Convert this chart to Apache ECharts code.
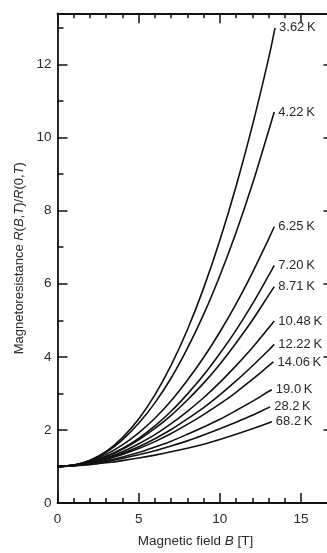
<!DOCTYPE html>
<html>
<head>
<meta charset="utf-8">
<script src="https://cdn.jsdelivr.net/npm/echarts@6/dist/echarts.min.js"></script>
<style>
html,body{margin:0;padding:0;background:#fff;overflow:hidden;width:327px;height:553px;}
#c{width:345px;height:553px;}
</style>
</head>
<body>
<div id="c"></div>
<script>
// Field values (T) at which the curves are read
const fieldB = [0,1,2,3,4,5,6,7,8,9,10,11,12,13];
// Curve labels (temperature)
const temps = ['3.62\u2009K','4.22\u2009K','6.25\u2009K','7.20\u2009K','8.71\u2009K','10.48\u2009K','12.22\u2009K','14.06\u2009K','19.0\u2009K','28.2\u2009K','68.2\u2009K'];
// Field at the end of each curve
const endB = [13.4,13.35,13.35,13.35,13.35,13.35,13.35,13.3,13.2,13.1,13.2];
// R(B,T)/R(0,T) values at fieldB, then at endB
const r362  = [1,1.03,1.17,1.41,1.79,2.30,2.96,3.77,4.74,5.88,7.19,8.67,10.32,12.16,13.0];
const r422  = [1,1.04,1.16,1.39,1.73,2.18,2.74,3.42,4.23,5.16,6.22,7.40,8.72,10.18,10.7];
const r625  = [1,1.04,1.15,1.33,1.59,1.92,2.32,2.80,3.36,3.98,4.68,5.45,6.30,7.22,7.56];
const r720  = [1,1.03,1.12,1.28,1.49,1.77,2.11,2.51,2.98,3.50,4.09,4.73,5.44,6.22,6.5];
const r871  = [1,1.03,1.12,1.27,1.47,1.73,2.04,2.40,2.82,3.28,3.80,4.38,5.00,5.68,5.92];
const r1048 = [1,1.03,1.11,1.23,1.40,1.62,1.87,2.17,2.51,2.88,3.30,3.76,4.25,4.79,4.98];
const r1222 = [1,1.03,1.10,1.21,1.36,1.54,1.76,2.01,2.30,2.61,2.96,3.34,3.75,4.18,4.34];
const r1406 = [1,1.03,1.09,1.20,1.33,1.49,1.68,1.90,2.15,2.42,2.71,3.03,3.38,3.75,3.86];
const r190  = [1,1.02,1.08,1.16,1.26,1.38,1.53,1.69,1.88,2.08,2.29,2.53,2.78,3.05,3.10];
const r282  = [1,1.02,1.07,1.13,1.22,1.32,1.43,1.56,1.70,1.86,2.03,2.21,2.40,2.61,2.63];
const r682  = [1,1.02,1.05,1.10,1.16,1.23,1.31,1.40,1.50,1.61,1.74,1.88,2.03,2.19,2.23];
const allR = [r362,r422,r625,r720,r871,r1048,r1222,r1406,r190,r282,r682];

// Tick values
const xMajor = [0,5,10,15];
const xMinor = [1,2,3,4,6,7,8,9,11,12,13,14];
const yMajor = [0,2,4,6,8,10,12];
const yMinor = [1,3,5,7,9,11,13];

const FONT = '"Liberation Sans", Arial, Helvetica, sans-serif';
const INK = '#111';
const TXT = '#2a2a2a';

function xAx(pos, ticks, len, labels, lineShow, extra) {
  return Object.assign({
    type:'value', position:pos, min:0, max:17, gridIndex:0,
    axisLine:{show:lineShow, onZero:false, lineStyle:{color:INK,width:1.8}},
    axisTick:{show:true, inside:true, length:len, customValues:ticks, lineStyle:{color:INK,width:1.5}},
    axisLabel:{show:!!labels, customValues:labels||[], color:TXT, fontSize:13.5, fontFamily:FONT, margin:9},
    splitLine:{show:false}
  }, extra||{});
}
function yAx(pos, ticks, len, labels, lineShow, extra) {
  return Object.assign({
    type:'value', position:pos, min:0, max:13.4, gridIndex:0,
    axisLine:{show:lineShow, onZero:false, lineStyle:{color:INK,width:1.8}},
    axisTick:{show:true, inside:true, length:len, customValues:ticks, lineStyle:{color:INK,width:1.5}},
    axisLabel:{show:!!labels, customValues:labels||[], color:TXT, fontSize:13.5, fontFamily:FONT, margin:6},
    splitLine:{show:false}
  }, extra||{});
}

const series = allR.map((r, i) => ({
  type:'line', name:temps[i], xAxisIndex:0, yAxisIndex:0,
  data: r.map((v, j) => [j < fieldB.length ? fieldB[j] : endB[i], v]),
  smooth:0.3, showSymbol:false, symbol:'none',
  lineStyle:{color:INK, width:1.6},
  endLabel:{show:true, formatter:temps[i], distance:4, color:TXT, fontSize:13, fontFamily:FONT},
  silent:true, animation:false
}));

const chart = echarts.init(document.getElementById('c'), null, {renderer:'canvas'});
chart.setOption({
  animation:false,
  backgroundColor:'#fff',
  grid:{left:57.5, top:13.3, width:276, height:498.7},
  xAxis:[
    xAx('bottom', xMajor, 10, xMajor, true, {
      name:'{n|Magnetic field }{i|B}{n| [T]}', nameLocation:'middle', nameGap:31,
      nameTextStyle:{rich:{n:{fontSize:13.5,fontFamily:FONT,color:TXT},i:{fontSize:13.5,fontFamily:FONT,color:TXT,fontStyle:'italic'}}}
    }),
    xAx('bottom', xMinor, 5, null, false),
    xAx('top', xMajor, 10, null, true),
    xAx('top', xMinor, 5, null, false)
  ],
  yAxis:[
    yAx('left', yMajor, 10, yMajor, true, {
      name:'{n|Magnetoresistance }{i|R}{n|(}{i|B}{n|,}{i|T}{n|)/}{i|R}{n|(0,}{i|T}{n|)}',
      nameLocation:'middle', nameGap:31, nameRotate:90,
      nameTextStyle:{rich:{n:{fontSize:13,fontFamily:FONT,color:TXT},i:{fontSize:13,fontFamily:FONT,color:TXT,fontStyle:'italic'}}}
    }),
    yAx('left', yMinor, 6, null, false),
    yAx('right', yMajor, 10, null, true),
    yAx('right', yMinor, 6, null, false)
  ],
  series: series
});
</script>
</body>
</html>
